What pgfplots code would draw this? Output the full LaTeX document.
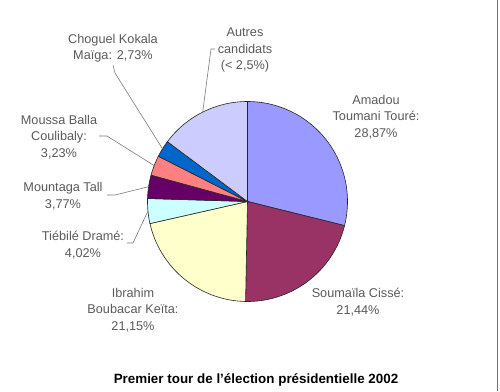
\documentclass[border=0pt]{standalone}
\usepackage{pgfplots}
\pgfplotsset{compat=1.18}
\usepackage{fontspec}
\setmainfont{Liberation Sans}
\definecolor{c1}{HTML}{9999FF}
\definecolor{c2}{HTML}{993366}
\definecolor{c3}{HTML}{FFFFCC}
\definecolor{c4}{HTML}{CCFFFF}
\definecolor{c5}{HTML}{660066}
\definecolor{c6}{HTML}{FF8080}
\definecolor{c7}{HTML}{0066CC}
\definecolor{c8}{HTML}{CCCCFF}
\definecolor{lbl}{HTML}{5A5A5A}
\definecolor{ldr}{HTML}{7A7A7A}
\tikzset{lab/.style={align=center, text=lbl, font=\fontsize{12.7}{16.5}\selectfont, inner sep=0pt}}
\begin{document}
\begin{tikzpicture}
\useasboundingbox (0,0) rectangle (500pt,391pt);
% vote shares (%)
\def\pA{28.87}\def\pB{21.44}\def\pC{21.15}\def\pD{4.02}
\def\pE{3.77}\def\pF{3.23}\def\pG{2.73}\def\pH{14.79}
\pgfmathsetmacro\aA{90}
\pgfmathsetmacro\aB{\aA-3.6*\pA}
\pgfmathsetmacro\aC{\aB-3.6*\pB}
\pgfmathsetmacro\aD{\aC-3.6*\pC}
\pgfmathsetmacro\aE{\aD-3.6*\pD}
\pgfmathsetmacro\aF{\aE-3.6*\pE}
\pgfmathsetmacro\aG{\aF-3.6*\pF}
\pgfmathsetmacro\aH{\aG-3.6*\pG}
\pgfmathsetmacro\aI{\aH-3.6*\pH}
\def\cx{247.5}\def\cy{201.5}\def\R{100}
\begin{axis}[
  at={(0,0)}, anchor=south west,
  width=500pt, height=391pt, scale only axis,
  xmin=0, xmax=500, ymin=0, ymax=391, y dir=reverse,
  hide axis, clip=false,
  every axis plot/.append style={draw=black!85, line width=0.6pt, samples=60, variable=\t},
]
\addplot[fill=c1, domain=\aB:\aA] ({\cx+\R*cos(\t)},{\cy-\R*sin(\t)}) -- (axis cs:\cx,\cy) -- cycle;
\addplot[fill=c2, domain=\aC:\aB] ({\cx+\R*cos(\t)},{\cy-\R*sin(\t)}) -- (axis cs:\cx,\cy) -- cycle;
\addplot[fill=c3, domain=\aD:\aC] ({\cx+\R*cos(\t)},{\cy-\R*sin(\t)}) -- (axis cs:\cx,\cy) -- cycle;
\addplot[fill=c4, domain=\aE:\aD] ({\cx+\R*cos(\t)},{\cy-\R*sin(\t)}) -- (axis cs:\cx,\cy) -- cycle;
\addplot[fill=c5, domain=\aF:\aE] ({\cx+\R*cos(\t)},{\cy-\R*sin(\t)}) -- (axis cs:\cx,\cy) -- cycle;
\addplot[fill=c6, domain=\aG:\aF] ({\cx+\R*cos(\t)},{\cy-\R*sin(\t)}) -- (axis cs:\cx,\cy) -- cycle;
\addplot[fill=c7, domain=\aH:\aG] ({\cx+\R*cos(\t)},{\cy-\R*sin(\t)}) -- (axis cs:\cx,\cy) -- cycle;
\addplot[fill=c8, domain=\aI:\aH] ({\cx+\R*cos(\t)},{\cy-\R*sin(\t)}) -- (axis cs:\cx,\cy) -- cycle;
% leader lines
\draw[ldr, line width=0.6pt] (axis cs:202.7,112) -- (axis cs:211,49) -- (axis cs:215,49);
\draw[ldr, line width=0.6pt] (axis cs:162.5,148.8) -- (axis cs:115,73) -- (axis cs:113,65);
\draw[ldr, line width=0.6pt] (axis cs:154,165.5) -- (axis cs:107,136) -- (axis cs:99,136);
\draw[ldr, line width=0.6pt] (axis cs:148.6,186.7) -- (axis cs:115,195) -- (axis cs:107,195);
\draw[ldr, line width=0.6pt] (axis cs:148,211) -- (axis cs:133,243) -- (axis cs:127,243);
% labels
\node[lab] at (axis cs:245,50) {Autres\\candidats\\(< 2,5\%)};
\node[lab] at (axis cs:376,117) {Amadou\\Toumani Touré:\\28,87\%};
\node[lab] at (axis cs:358,302) {Soumaïla Cissé:\\21,44\%};
\node[lab] at (axis cs:133,310) {Ibrahim\\Boubacar Keïta:\\21,15\%};
\node[lab] at (axis cs:83,245) {Tiébilé Dramé:\\4,02\%};
\node[lab] at (axis cs:63,196) {Mountaga Tall\\3,77\%};
\node[lab] at (axis cs:59,137) {Moussa Balla\\Coulibaly:\\3,23\%};
\node[lab] at (axis cs:113,48) {Choguel Kokala\\Maïga: 2,73\%};
\node[font=\fontsize{13.4}{16}\selectfont\bfseries, inner sep=0pt] at (axis cs:256,380) {Premier tour de l'élection présidentielle 2002};
% frame edge
\draw[black!55, line width=1pt] (axis cs:497,0) -- (axis cs:497,391);
\end{axis}
\end{tikzpicture}
\end{document}
